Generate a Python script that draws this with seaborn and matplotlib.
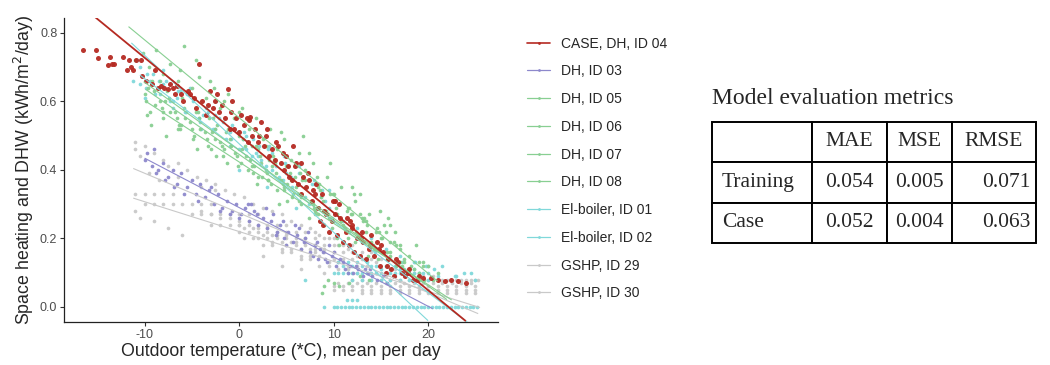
import numpy as np
import pandas as pd
import matplotlib
matplotlib.use("Agg")
import matplotlib.pyplot as plt
from matplotlib.lines import Line2D
import seaborn as sns

# ---------------- data ----------------
series_names = ["CASE, DH, ID 04", "DH, ID 03", "DH, ID 05", "DH, ID 06", "DH, ID 07",
                "DH, ID 08", "El-boiler, ID 01", "El-boiler, ID 02", "GSHP, ID 29", "GSHP, ID 30"]
series_colors = ["#B52A22", "#8D88CC", "#88CF92", "#88CF92", "#88CF92",
                 "#88CF92", "#80D8DA", "#80D8DA", "#C9C9C9", "#C9C9C9"]

# regression lines: intercept at 0 degC, slope per degC, x-range
line_intercept = [0.501, 0.290, 0.552, 0.457, 0.445, 0.423, 0.476, 0.458, 0.274, 0.220]
line_slope = [-0.0226, -0.0144, -0.0227, -0.0198, -0.0192, -0.0179, -0.0258, -0.0208, -0.0116, -0.0087]
line_xmin = [-16.5, -10.0, -11.7, -10.1, -9.9, -9.9, -11.4, -10.5, -11.2, -11.2]
line_xmax = [24.0, 20.5, 21.0, 22.0, 19.5, 22.5, 20.0, 24.7, 25.3, 25.5]

case04_x = [-16.5, -15.1, -14.9, -13.7, -13.5, -13.9, -13.2, -12.3, -11.7, -11.4, -11.2, -10.9, -10.4, -10.3,
            -9.8, -9.2, -8.6, -8.3, -7.9, -7.5, -7.0, -6.6, -6.1, -5.9, -5.4, -4.8, -4.2, -4.6, -3.9, -3.5,
            -3.1, -2.8, -2.5, -2.1, -1.8, -1.5, -1.2, -0.9, -0.5, -0.3, 0.2, 0.5, 0.8, 1.1, 1.4, 1.7, 2.0,
            2.3, 2.6, 2.9, 3.2, 3.5, 3.8, 4.1, 4.4, 4.7, 5.0, 5.3, 5.6, 5.9, 6.2, 6.5, 6.8, 7.1, 7.4, 7.7,
            8.0, 8.3, 8.6, 8.9, 9.2, 9.5, 9.8, 10.1, 10.4, 10.7, 11.0, 11.3, 11.6, 11.9, 12.2, 12.5, 12.8,
            13.1, 13.4, 13.7, 14.0, 14.3, 14.6, 14.9, 15.2, 15.5, 15.8, 16.1, 16.4, 16.8, 17.2, 17.6, 18.0,
            18.4, 19.0, 19.5, 20.3, 21.0, 21.8, 22.4, 23.2, 24.0, 1.2, 0.9, 3.0, 4.6, 6.0, 7.3, 8.8, 9.9,
            10.6, 12.0, 13.0, 14.8, -2.3, -0.8, 5.7, 8.1, 11.4, 15.0, -7.3, -6.8, -1.0, 0.0, 2.1, 3.9, 5.2,
            6.6, 7.8, 9.0, 10.2, 11.7, 12.9, 13.9, 15.6, 16.6, 17.9, 18.8, -11.9, -8.9, -5.2, -3.3]
case04_y = [0.750, 0.750, 0.725, 0.730, 0.710, 0.705, 0.710, 0.730, 0.720, 0.700, 0.690, 0.720, 0.720, 0.675,
            0.660, 0.650, 0.640, 0.645, 0.640, 0.635, 0.640, 0.645, 0.620, 0.600, 0.630, 0.610, 0.710, 0.580,
            0.600, 0.560, 0.630, 0.580, 0.600, 0.570, 0.590, 0.550, 0.635, 0.570, 0.520, 0.550, 0.560, 0.530,
            0.550, 0.545, 0.500, 0.520, 0.480, 0.540, 0.470, 0.500, 0.440, 0.460, 0.430, 0.470, 0.420, 0.400,
            0.440, 0.380, 0.370, 0.410, 0.360, 0.330, 0.380, 0.350, 0.370, 0.310, 0.330, 0.290, 0.250, 0.240,
            0.270, 0.220, 0.250, 0.270, 0.210, 0.260, 0.190, 0.220, 0.180, 0.230, 0.160, 0.200, 0.150, 0.190,
            0.140, 0.170, 0.210, 0.150, 0.190, 0.120, 0.160, 0.100, 0.140, 0.110, 0.090, 0.130, 0.100, 0.090,
            0.110, 0.080, 0.090, 0.085, 0.085, 0.080, 0.075, 0.080, 0.075, 0.070, 0.555, 0.480, 0.520, 0.450,
            0.420, 0.390, 0.330, 0.310, 0.300, 0.240, 0.220, 0.170, 0.620, 0.600, 0.470, 0.360, 0.260, 0.180,
            0.650, 0.620, 0.520, 0.510, 0.500, 0.480, 0.410, 0.420, 0.340, 0.280, 0.310, 0.250, 0.200, 0.180,
            0.120, 0.140, 0.100, 0.080, 0.690, 0.690, 0.620, 0.590]

dh03_x = [-10.0, -9.7, -9.2, -8.6, -8.1, -7.5, -7.0, -6.6, -6.1, -5.5, -5.0, -4.6, -4.1, -3.6, -3.2, -2.7,
          -2.2, -1.8, -1.3, -0.8, -0.3, 0.2, 0.6, 1.1, 1.6, 2.0, 2.5, 3.0, 3.4, 3.9, 4.3, 4.8, 5.2, 5.7, 6.1,
          6.6, 7.0, 7.5, 8.0, 8.4, 8.9, 9.3, 9.8, 10.3, 10.7, 11.2, 11.7, 12.1, 12.6, 13.1, 13.6, 14.1, 14.6,
          15.2, -9.0, -5.8, 2.8, 5.9, 7.3, 9.5, -3.0, 0.9, 4.0, 6.9, 11.0, 13.3, -7.8, -1.0, 1.9, 8.6, -8.8,
          -6.9, -4.4, -2.0, 0.0, 1.3, 3.6, 5.0, 6.3, 7.8, 9.1, 10.0, 11.5, 12.4, 13.9, 15.6, 4.6, 8.2]
dh03_y = [0.430, 0.450, 0.410, 0.400, 0.420, 0.380, 0.400, 0.360, 0.390, 0.350, 0.370, 0.330, 0.360, 0.320,
          0.340, 0.300, 0.330, 0.290, 0.310, 0.280, 0.300, 0.270, 0.290, 0.250, 0.280, 0.240, 0.260, 0.230,
          0.250, 0.210, 0.240, 0.200, 0.220, 0.190, 0.210, 0.170, 0.200, 0.160, 0.180, 0.140, 0.160, 0.130,
          0.150, 0.120, 0.140, 0.110, 0.120, 0.100, 0.110, 0.090, 0.100, 0.090, 0.080, 0.090, 0.460, 0.330,
          0.290, 0.240, 0.220, 0.180, 0.350, 0.300, 0.220, 0.190, 0.130, 0.110, 0.370, 0.270, 0.270, 0.170,
          0.390, 0.350, 0.310, 0.280, 0.260, 0.300, 0.270, 0.180, 0.230, 0.150, 0.140, 0.160, 0.100, 0.120,
          0.110, 0.070, 0.250, 0.190]

dh05_x = [-11.0, -10.2, -9.5, -8.8, -8.0, -7.3, -6.5, -5.8, -5.0, -4.2, -3.5, -2.7, -2.0, -1.2, -0.5, 0.3,
          1.0, 1.8, 2.5, 3.3, 4.0, 4.8, 5.5, 6.3, 7.0, 7.8, 8.5, 9.3, 10.0, 10.8, 11.5, 12.3, 13.0, 13.8,
          14.5, 15.3, 16.0, 17.0, 18.0, 19.5, -6.2, -4.6, -3.1, -1.6, 0.0, 1.4, 2.9, 4.4, 5.9, 7.4, 8.9,
          10.4, 11.9, 13.4, 14.9, 16.5, 17.5, 18.7, 20.0, 21.0, 9.6, 12.8, 15.8, 6.8, -8.4, -2.3, 3.7, 5.1]
dh05_y = [0.720, 0.740, 0.700, 0.750, 0.680, 0.710, 0.660, 0.760, 0.640, 0.670, 0.610, 0.640, 0.580, 0.620,
          0.550, 0.580, 0.520, 0.550, 0.490, 0.520, 0.460, 0.490, 0.430, 0.450, 0.400, 0.420, 0.360, 0.380,
          0.330, 0.350, 0.290, 0.310, 0.260, 0.270, 0.220, 0.240, 0.190, 0.180, 0.150, 0.130, 0.690, 0.720,
          0.660, 0.600, 0.570, 0.470, 0.470, 0.510, 0.380, 0.450, 0.310, 0.270, 0.350, 0.220, 0.280, 0.220,
          0.140, 0.180, 0.120, 0.100, 0.420, 0.330, 0.260, 0.500, 0.660, 0.530, 0.430, 0.360]

dh06_x = [-10.0, -9.2, -8.4, -7.6, -6.8, -6.0, -5.2, -4.4, -3.6, -2.8, -2.0, -1.2, -0.4, 0.4, 1.2, 2.0, 2.8,
          3.6, 4.4, 5.2, 6.0, 6.8, 7.6, 8.4, 9.2, 10.0, 10.8, 11.6, 12.4, 13.2, 14.0, 14.8, 15.6, 16.4, 17.5,
          19.0, 0.9, 3.1, 5.7, 8.0, -9.6, -8.0, -6.4, -4.8, -3.2, -1.6, 0.0, 1.6, 3.2, 4.8, 6.4, 8.0, 9.6,
          11.2, 12.8, 14.4, 16.0, 17.0, 18.2, 19.6, 10.4, 13.6, 2.4, 5.6, -2.4]
dh06_y = [0.620, 0.660, 0.600, 0.630, 0.570, 0.610, 0.540, 0.570, 0.510, 0.550, 0.480, 0.520, 0.450, 0.490,
          0.430, 0.460, 0.400, 0.440, 0.370, 0.410, 0.350, 0.380, 0.310, 0.350, 0.280, 0.310, 0.250, 0.290,
          0.220, 0.260, 0.190, 0.220, 0.160, 0.190, 0.130, 0.100, 0.400, 0.370, 0.330, 0.270, 0.640, 0.570,
          0.530, 0.500, 0.550, 0.460, 0.500, 0.410, 0.430, 0.350, 0.390, 0.280, 0.330, 0.230, 0.270, 0.170,
          0.240, 0.170, 0.120, 0.080, 0.200, 0.150, 0.380, 0.320, 0.440]

dh07_x = [-9.8, -9.0, -8.2, -7.4, -6.6, -5.8, -5.0, -4.2, -3.4, -2.6, -1.8, -1.0, -0.2, 0.6, 1.4, 2.2, 3.0,
          3.8, 4.6, 5.4, 6.2, 7.0, 7.8, 8.6, 9.4, 10.2, 11.0, 11.8, 12.6, 13.4, 14.2, 15.0, 16.0, 17.0, 18.5,
          2.0, 4.0, 6.6, 9.0, -9.4, -7.8, -6.2, -4.6, -3.0, -1.4, 0.2, 1.8, 3.4, 5.0, 6.6, 8.2, 9.8, 11.4,
          13.0, 14.6, 15.6, 16.6, 17.8, 19.0, 7.4, 10.6, 12.2, 4.2]
dh07_y = [0.600, 0.630, 0.580, 0.610, 0.550, 0.580, 0.520, 0.550, 0.490, 0.520, 0.470, 0.490, 0.440, 0.470,
          0.410, 0.440, 0.390, 0.420, 0.360, 0.390, 0.330, 0.370, 0.300, 0.340, 0.270, 0.310, 0.240, 0.270,
          0.210, 0.250, 0.180, 0.200, 0.160, 0.130, 0.110, 0.380, 0.340, 0.300, 0.240, 0.570, 0.600, 0.520,
          0.570, 0.460, 0.510, 0.420, 0.470, 0.360, 0.410, 0.320, 0.380, 0.230, 0.280, 0.190, 0.230, 0.140,
          0.180, 0.100, 0.130, 0.260, 0.180, 0.330, 0.300]

dh08_x = [-9.7, -8.9, -8.1, -7.3, -6.5, -5.7, -4.9, -4.1, -3.3, -2.5, -1.7, -0.9, -0.1, 0.7, 1.5, 2.3, 3.1,
          3.9, 4.7, 5.5, 6.3, 7.1, 7.9, 8.7, 9.5, 10.3, 11.1, 11.9, 12.7, 13.5, 14.3, 15.1, 16.0, 17.2, 19.0,
          9.0, 10.0, 8.8, 12.3, -9.3, -7.7, -6.1, -4.5, -2.9, -1.3, 0.3, 1.9, 3.5, 5.1, 6.7, 8.3, 9.9, 11.5,
          13.1, 14.7, 15.5, 16.6, 18.0, 19.5, 20.5, 9.4, 10.6, 11.6, 12.8, 13.8]
dh08_y = [0.560, 0.590, 0.550, 0.570, 0.520, 0.550, 0.490, 0.520, 0.470, 0.490, 0.440, 0.470, 0.410, 0.440,
          0.390, 0.420, 0.370, 0.390, 0.340, 0.370, 0.310, 0.350, 0.290, 0.320, 0.260, 0.290, 0.230, 0.270,
          0.200, 0.240, 0.170, 0.200, 0.150, 0.120, 0.090, 0.060, 0.070, 0.040, 0.190, 0.530, 0.500, 0.530,
          0.460, 0.510, 0.420, 0.460, 0.360, 0.410, 0.310, 0.370, 0.270, 0.330, 0.200, 0.250, 0.140, 0.220,
          0.120, 0.110, 0.120, 0.080, 0.080, 0.060, 0.070, 0.090, 0.080]

el01_x = [-11.2, -10.5, -9.8, -9.1, -8.4, -7.7, -7.0, -6.3, -5.6, -4.9, -4.2, -3.5, -2.8, -2.1, -1.4, -0.7,
          0.0, 0.7, 1.4, 2.1, 2.8, 3.5, 4.2, 4.9, 5.6, 6.3, 7.0, 7.7, 8.4, 9.1, 9.8, 10.5, 11.5, 12.5, 13.5,
          14.5, 15.5, 16.5, 17.5, 18.5, 9.0, 10.0, 10.4, 10.8, 11.2, 11.6, 12.0, 12.4, 12.8, 13.2, 13.6, 14.0,
          14.4, 14.8, 15.2, 15.6, 16.0, 16.4, 16.8, 17.2, 17.6, 18.0, 18.4, 18.8, 19.2, 19.6, 20.0, -10.8,
          -9.4, -8.0, -6.6, -5.2, -3.8, -2.4, -1.0, 0.4, 1.8, 3.2, 4.6, 6.0, 7.4, 8.8, 10.2, 11.6, 13.0, 14.4,
          15.8, 17.2, 18.6, 19.8, 20.6, 21.5, 22.8, 23.8, 25.0, 11.0, 12.0, 13.0, 14.0, 15.0, 16.0, 17.0,
          18.0, 19.0, 7.0]
el01_y = [0.660, 0.700, 0.640, 0.680, 0.620, 0.660, 0.600, 0.630, 0.570, 0.610, 0.550, 0.580, 0.520, 0.550,
          0.490, 0.530, 0.460, 0.500, 0.440, 0.470, 0.410, 0.450, 0.380, 0.420, 0.350, 0.390, 0.320, 0.360,
          0.290, 0.310, 0.260, 0.130, 0.130, 0.130, 0.130, 0.120, 0.120, 0.120, 0.110, 0.110, 0.000, 0.000,
          0.000, 0.000, 0.000, 0.000, 0.000, 0.000, 0.000, 0.000, 0.000, 0.000, 0.000, 0.000, 0.000, 0.000,
          0.000, 0.000, 0.000, 0.000, 0.000, 0.000, 0.000, 0.000, 0.000, 0.000, 0.000, 0.720, 0.660, 0.690,
          0.610, 0.640, 0.560, 0.600, 0.510, 0.490, 0.450, 0.470, 0.370, 0.410, 0.300, 0.340, 0.270, 0.220,
          0.190, 0.160, 0.140, 0.130, 0.130, 0.120, 0.110, 0.120, 0.090, 0.100, 0.080, 0.120, 0.120, 0.120,
          0.120, 0.110, 0.110, 0.110, 0.100, 0.100, 0.080]

el02_x = [-10.5, -9.7, -8.9, -8.1, -7.3, -6.5, -5.7, -4.9, -4.1, -3.3, -2.5, -1.7, -0.9, -0.1, 0.7, 1.5, 2.3,
          3.1, 3.9, 4.7, 5.5, 6.3, 7.1, 7.9, 8.7, 9.5, 10.5, 11.5, 12.5, 13.5, 14.5, 15.5, 16.5, 17.5, 18.5,
          19.5, 21.0, 23.0, 24.5, 11.4, 12.0, 12.5, 20.4, 20.8, 21.2, 21.6, 22.0, 22.4, 22.8, 23.2, 23.6,
          24.0, 24.4, 24.8, 25.2, 12.0, 13.0, 14.0, 15.0, 16.0, 17.0, 18.0, 19.0, 20.0, -10.0, -8.5, -7.0,
          -5.5, -4.0, -2.5, -1.0, 0.5, 2.0, 3.5, 5.0, 6.5, 8.0, 9.5, 11.0, 12.5, 14.0, 15.5, 17.0, 18.5,
          20.0, 10.0, 11.0, 12.0, 13.0, 14.0, 15.0, 16.0, 17.0, 18.0, 19.0, 20.0, 0.0, 3.0, 6.0]
el02_y = [0.650, 0.680, 0.620, 0.650, 0.600, 0.630, 0.570, 0.600, 0.540, 0.570, 0.520, 0.540, 0.490, 0.510,
          0.460, 0.490, 0.430, 0.460, 0.410, 0.440, 0.380, 0.410, 0.350, 0.370, 0.320, 0.340, 0.100, 0.100,
          0.100, 0.100, 0.100, 0.100, 0.100, 0.100, 0.100, 0.100, 0.090, 0.090, 0.100, 0.020, 0.020, 0.020,
          0.000, 0.000, 0.000, 0.000, 0.000, 0.000, 0.000, 0.000, 0.000, 0.000, 0.000, 0.000, 0.000, 0.080,
          0.080, 0.080, 0.080, 0.080, 0.080, 0.080, 0.080, 0.080, 0.610, 0.660, 0.580, 0.620, 0.520, 0.560,
          0.470, 0.510, 0.440, 0.400, 0.390, 0.330, 0.360, 0.290, 0.250, 0.230, 0.200, 0.170, 0.150, 0.130,
          0.120, 0.100, 0.100, 0.100, 0.100, 0.100, 0.100, 0.100, 0.100, 0.100, 0.100, 0.100, 0.400, 0.350,
          0.290]

gshp29_x = [-11.0, -11.0, -10.5, -10.0, -9.0, -8.0, -7.5, -6.5, -5.5, -4.5, -3.5, -2.5, -1.5, -0.5, 0.5, 1.5,
            2.5, 3.5, 4.5, 5.5, 6.5, 7.5, 8.5, 9.5, 10.5, 11.5, 12.5, 13.5, 14.5, 15.5, 16.5, 17.5, 18.5,
            19.5, 20.5, 21.5, 22.5, 23.5, 24.5, 25.3, 10.0, 11.0, 12.0, 13.0, 14.0, 15.0, 16.0, 17.0, 18.0,
            19.0, 20.0, 21.0, 22.0, 23.0, 24.0, 25.0, 0.0, 1.0, 2.0, 3.0, 4.0, 5.0, 6.0, 7.0, 8.0, 9.0,
            10.5, 11.5, 12.5, 13.5, 14.5, 15.5, 16.5, 17.5, 18.5, 19.5, 20.5, 21.5, 22.5, 23.5, 24.5, 13.0,
            14.0, 15.0, 16.0, 17.0, 18.0, 19.0, 20.0, 21.0, 22.0, 23.0, 24.0, 25.0, 0.5, 1.5, 2.5, 3.5, 4.5,
            5.5, 6.5, 7.5, 8.5, 9.5, -4.0, -3.0, -2.0, -1.0, 0.0]
gshp29_y = [0.480, 0.460, 0.440, 0.470, 0.450, 0.430, 0.410, 0.420, 0.400, 0.380, 0.370, 0.360, 0.340, 0.330,
            0.320, 0.300, 0.290, 0.280, 0.270, 0.250, 0.240, 0.230, 0.210, 0.200, 0.180, 0.170, 0.150, 0.140,
            0.130, 0.120, 0.110, 0.100, 0.100, 0.090, 0.090, 0.080, 0.080, 0.080, 0.080, 0.080, 0.060, 0.060,
            0.060, 0.060, 0.060, 0.060, 0.060, 0.060, 0.060, 0.060, 0.060, 0.060, 0.060, 0.060, 0.060, 0.060,
            0.250, 0.250, 0.230, 0.230, 0.210, 0.210, 0.190, 0.190, 0.170, 0.170, 0.070, 0.070, 0.070, 0.070,
            0.070, 0.070, 0.070, 0.070, 0.070, 0.070, 0.070, 0.070, 0.070, 0.070, 0.070, 0.040, 0.040, 0.040,
            0.040, 0.040, 0.040, 0.040, 0.040, 0.040, 0.040, 0.040, 0.040, 0.040, 0.200, 0.200, 0.180, 0.180,
            0.160, 0.160, 0.140, 0.140, 0.120, 0.120, 0.280, 0.270, 0.260, 0.260, 0.240]

gshp30_x = [-11.0, -10.0, -9.0, -8.0, -7.0, -10.0, -9.0, -8.0, -7.0, -6.0, -5.0, -4.0, -3.0, -5.0, -4.0,
            -3.0, -2.0, -1.0, 0.0, 1.0, 2.0, -3.0, -2.0, -1.0, 0.0, 1.0, 2.0, 3.0, 4.0, 5.0, 0.0, 1.0, 2.0,
            3.0, 4.0, 5.0, 6.0, 7.0, 8.0, 2.0, 3.0, 4.0, 5.0, 6.0, 7.0, 8.0, 9.0, 10.0, 5.0, 6.0, 7.0, 8.0,
            9.0, 10.0, 11.0, 12.0, 8.0, 9.0, 10.0, 11.0, 12.0, 13.0, 14.0, 10.0, 11.0, 12.0, 13.0, 14.0, 15.0,
            16.0, 12.0, 13.0, 14.0, 15.0, 16.0, 17.0, 18.0, 19.0, 20.0, 21.0, 22.0, 23.0, 24.0, 25.0, 10.0,
            11.0, 12.0, 13.0, 14.0, 15.0, 16.0, 17.0, 18.0, 19.0, 20.0, 21.0, 22.0, 23.0, 24.0, 25.0, -9.5,
            -8.5, -6.5, -4.0, -2.5, -11.0, -10.5, -9.0, -7.5, -6.0, 2.5, 4.5, 6.5, 9.0, 0.5, 1.5, 2.5, 3.5,
            4.5, 5.5, 6.5, 7.5, 3.5, 4.5, 5.5, 6.5, 7.5, 8.5, 9.5, 10.5, 11.5, 12.5, 13.5, 10.5, 11.5, 12.5,
            13.5, 14.5, 15.5, 16.5, 17.5]
gshp30_y = [0.330, 0.330, 0.330, 0.330, 0.330, 0.300, 0.300, 0.300, 0.300, 0.300, 0.300, 0.300, 0.300, 0.270,
            0.270, 0.270, 0.270, 0.270, 0.270, 0.270, 0.270, 0.240, 0.240, 0.240, 0.240, 0.240, 0.240, 0.240,
            0.240, 0.240, 0.220, 0.220, 0.220, 0.220, 0.220, 0.220, 0.220, 0.220, 0.220, 0.200, 0.200, 0.200,
            0.200, 0.200, 0.200, 0.200, 0.200, 0.200, 0.180, 0.180, 0.180, 0.180, 0.180, 0.180, 0.180, 0.180,
            0.160, 0.160, 0.160, 0.160, 0.160, 0.160, 0.160, 0.140, 0.140, 0.140, 0.140, 0.140, 0.140, 0.140,
            0.080, 0.080, 0.080, 0.080, 0.080, 0.080, 0.080, 0.080, 0.080, 0.080, 0.080, 0.080, 0.080, 0.080,
            0.050, 0.050, 0.050, 0.050, 0.050, 0.050, 0.050, 0.050, 0.050, 0.050, 0.050, 0.050, 0.050, 0.050,
            0.050, 0.050, 0.390, 0.370, 0.380, 0.350, 0.340, 0.280, 0.260, 0.250, 0.230, 0.210, 0.150, 0.120,
            0.110, 0.100, 0.230, 0.230, 0.210, 0.210, 0.190, 0.190, 0.170, 0.170, 0.190, 0.170, 0.170, 0.150,
            0.150, 0.150, 0.130, 0.130, 0.120, 0.120, 0.120, 0.110, 0.110, 0.100, 0.100, 0.100, 0.090, 0.090,
            0.090]

series_x = [case04_x, dh03_x, dh05_x, dh06_x, dh07_x, dh08_x, el01_x, el02_x, gshp29_x, gshp30_x]
series_y = [case04_y, dh03_y, dh05_y, dh06_y, dh07_y, dh08_y, el01_y, el02_y, gshp29_y, gshp30_y]

x_ticks = [-10, 0, 10, 20]
y_ticks = [0.0, 0.2, 0.4, 0.6, 0.8]

table_title = "Model evaluation metrics"
table_cols = ["", "MAE", "MSE", "RMSE"]
table_rows = ["Training", "Case"]
mae_vals = ["0.054", "0.052"]
mse_vals = ["0.005", "0.004"]
rmse_vals = ["0.071", "0.063"]

# ---------------- figure ----------------
sns.set_theme(style="ticks")
plt.rcParams["font.family"] = ["Liberation Sans", "DejaVu Sans"]
plt.rcParams["axes.unicode_minus"] = False

fig = plt.figure(figsize=(10.5, 3.65), dpi=100)
ax = fig.add_axes([0.0612, 0.1186, 0.4131, 0.8314])

frames = []
for name, xs, ys in zip(series_names, series_x, series_y):
    frames.append(pd.DataFrame({"temp": xs, "energy": ys, "series": name}))
df = pd.concat(frames, ignore_index=True)

# draw order: greys, cyan, green, purple, red on top
draw_order = [8, 9, 6, 7, 2, 3, 4, 5, 1, 0]
for i in draw_order:
    name = series_names[i]
    sub = df[df["series"] == name]
    size = 13 if i == 0 else 7
    sns.scatterplot(data=sub, x="temp", y="energy", color=series_colors[i], s=size,
                    linewidth=0, alpha=0.95, ax=ax, legend=False, zorder=2)
for i in draw_order:
    xs = np.array([line_xmin[i], line_xmax[i]])
    ys = line_intercept[i] + line_slope[i] * xs
    ax.plot(xs, ys, color=series_colors[i], lw=1.3 if i == 0 else 0.8, zorder=3,
            solid_capstyle="butt")

ax.set_xlim(-18.5, 27.4)
ax.set_ylim(-0.043, 0.842)
ax.set_xticks(x_ticks)
ax.set_yticks(y_ticks)
ax.set_yticklabels([f"{v:.1f}" for v in y_ticks])
ax.tick_params(axis="both", labelsize=9, labelcolor="#4d4d4d", color="#333333",
               length=3, width=0.8, pad=2)
for sp in ["left", "bottom"]:
    ax.spines[sp].set_color("#222222")
    ax.spines[sp].set_linewidth(0.9)
sns.despine(ax=ax)
ax.set_xlabel("Outdoor temperature (*C), mean per day", fontsize=12.8, labelpad=2)
ax.set_ylabel("Space heating and DHW (kWh/m$^2$/day)", fontsize=12.8, labelpad=3)

handles = [Line2D([0], [0], color=c, lw=1.2 if k == 0 else 0.9, marker="o",
                  markersize=2.0, markeredgewidth=0) for k, c in enumerate(series_colors)]
fig.legend(handles, series_names, loc="upper left", bbox_to_anchor=(0.4968, 0.915),
           frameon=False, fontsize=10, handlelength=1.65, handletextpad=0.8,
           labelspacing=0.99, borderaxespad=0)

# ---------------- table ----------------
fig.text(0.678, 0.73, table_title, fontsize=17, family="Liberation Serif",
         ha="left", va="center")
tax = fig.add_axes([0.678, 0.334, 0.309, 0.333])
tax.axis("off")
cell_text = [table_cols] + [[r, a, b, c] for r, a, b, c in zip(table_rows, mae_vals, mse_vals, rmse_vals)]
widths = [100.4, 74.6, 65.0, 84.7]
tot = sum(widths)
tbl = tax.table(cellText=cell_text, colWidths=[w / tot for w in widths],
                bbox=[0, 0, 1, 1], cellLoc="center")
tbl.auto_set_font_size(False)
for (r, c), cell in tbl.get_celld().items():
    cell.set_linewidth(1.4)
    cell.set_edgecolor("black")
    t = cell.get_text()
    t.set_fontfamily("Liberation Serif")
    t.set_fontsize(15.5)
    if c == 0:
        t.set_ha("left")
        cell.PAD = 0.1
    elif c == 3 and r > 0:
        t.set_ha("right")
        cell.PAD = 0.07

fig.savefig("out.png", dpi=100)
